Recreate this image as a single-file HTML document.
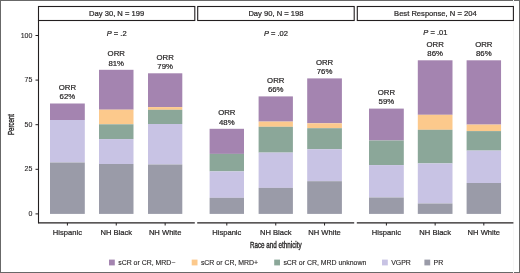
<!DOCTYPE html>
<html><head><meta charset="utf-8"><style>html,body{margin:0;padding:0;background:#fff;overflow:hidden}#w{width:520px;height:273px}svg{display:block;will-change:transform}text{stroke:#2a2a2a;stroke-width:0.22px}</style></head><body><div id="w">
<svg width="520" height="273" viewBox="0 0 520 273" font-family='"Liberation Sans", sans-serif' fill="#231f20">
<rect x="0" y="0" width="520" height="273" fill="#fff"/>
<rect x="0.5" y="0.5" width="519" height="272" fill="none" stroke="#686868" stroke-width="1"/>
<line x1="513.5" y1="0" x2="513.5" y2="273" stroke="#f6f6f6" stroke-width="1"/>
<rect x="38.5" y="6.5" width="156.30" height="14" fill="#fff" stroke="#231f20" stroke-width="1.1"/>
<text x="116.65" y="16" font-size="7.6" text-anchor="middle">Day 30, N = 199</text>
<text x="116.65" y="35.7" font-size="7.5" text-anchor="middle"><tspan font-style="italic">P</tspan> = .2</text>
<line x1="38.0" y1="222.9" x2="194.8" y2="222.9" stroke="#231f20" stroke-width="1.2"/>
<rect x="197.7" y="6.5" width="156.50" height="14" fill="#fff" stroke="#231f20" stroke-width="1.1"/>
<text x="275.95" y="16" font-size="7.6" text-anchor="middle">Day 90, N = 198</text>
<text x="275.95" y="35.7" font-size="7.5" text-anchor="middle"><tspan font-style="italic">P</tspan> = .02</text>
<line x1="197.2" y1="222.9" x2="354.2" y2="222.9" stroke="#231f20" stroke-width="1.2"/>
<rect x="357.3" y="6.5" width="156.10" height="14" fill="#fff" stroke="#231f20" stroke-width="1.1"/>
<text x="435.35" y="16" font-size="7.6" text-anchor="middle">Best Response, N = 204</text>
<text x="435.35" y="34.5" font-size="7.5" text-anchor="middle"><tspan font-style="italic">P</tspan> = .01</text>
<line x1="356.8" y1="222.9" x2="513.4" y2="222.9" stroke="#231f20" stroke-width="1.2"/>
<line x1="38.5" y1="20" x2="38.5" y2="223.2" stroke="#231f20" stroke-width="1.1"/>
<line x1="35.5" y1="213.90" x2="38.5" y2="213.90" stroke="#231f20" stroke-width="1"/>
<text x="32.4" y="215.90" font-size="7.0" text-anchor="end" style="stroke-width:0.12px">0</text>
<line x1="35.5" y1="169.30" x2="38.5" y2="169.30" stroke="#231f20" stroke-width="1"/>
<text x="32.4" y="171.30" font-size="7.0" text-anchor="end" style="stroke-width:0.12px">25</text>
<line x1="35.5" y1="124.70" x2="38.5" y2="124.70" stroke="#231f20" stroke-width="1"/>
<text x="32.4" y="126.70" font-size="7.0" text-anchor="end" style="stroke-width:0.12px">50</text>
<line x1="35.5" y1="80.10" x2="38.5" y2="80.10" stroke="#231f20" stroke-width="1"/>
<text x="32.4" y="82.10" font-size="7.0" text-anchor="end" style="stroke-width:0.12px">75</text>
<line x1="35.5" y1="35.50" x2="38.5" y2="35.50" stroke="#231f20" stroke-width="1"/>
<text x="32.4" y="37.50" font-size="7.0" text-anchor="end" style="stroke-width:0.12px">100</text>
<text transform="translate(14.1,124.5) rotate(-90) scale(0.73,1)" font-size="8.4" text-anchor="middle" style="stroke-width:0.35px">Percent</text>
<rect x="50.0" y="103.50" width="34.80" height="16.50" fill="#a484b0"/>
<rect x="50.0" y="120.00" width="34.80" height="42.50" fill="#c8c3e4"/>
<rect x="50.0" y="162.50" width="34.80" height="51.40" fill="#9a9ba8"/>
<text x="67.4" y="90.10" font-size="7.8" text-anchor="middle">ORR</text>
<text x="67.4" y="99.30" font-size="7.8" text-anchor="middle">62%</text>
<line x1="67.4" y1="222.9" x2="67.4" y2="225.5" stroke="#231f20" stroke-width="1"/>
<text x="67.4" y="234.6" font-size="7.6" text-anchor="middle">Hispanic</text>
<rect x="99.0" y="69.80" width="34.50" height="39.90" fill="#a484b0"/>
<rect x="99.0" y="109.70" width="34.50" height="14.60" fill="#fcc98c"/>
<rect x="99.0" y="124.30" width="34.50" height="14.80" fill="#8ba799"/>
<rect x="99.0" y="139.10" width="34.50" height="24.90" fill="#c8c3e4"/>
<rect x="99.0" y="164.00" width="34.50" height="49.90" fill="#9a9ba8"/>
<text x="116.25" y="56.40" font-size="7.8" text-anchor="middle">ORR</text>
<text x="116.25" y="65.60" font-size="7.8" text-anchor="middle">81%</text>
<line x1="116.25" y1="222.9" x2="116.25" y2="225.5" stroke="#231f20" stroke-width="1"/>
<text x="116.25" y="234.6" font-size="7.6" text-anchor="middle">NH Black</text>
<rect x="148.0" y="73.30" width="34.30" height="33.80" fill="#a484b0"/>
<rect x="148.0" y="107.10" width="34.30" height="2.70" fill="#fcc98c"/>
<rect x="148.0" y="109.80" width="34.30" height="14.20" fill="#8ba799"/>
<rect x="148.0" y="124.00" width="34.30" height="40.50" fill="#c8c3e4"/>
<rect x="148.0" y="164.50" width="34.30" height="49.40" fill="#9a9ba8"/>
<text x="165.15" y="59.90" font-size="7.8" text-anchor="middle">ORR</text>
<text x="165.15" y="69.10" font-size="7.8" text-anchor="middle">79%</text>
<line x1="165.15" y1="222.9" x2="165.15" y2="225.5" stroke="#231f20" stroke-width="1"/>
<text x="165.15" y="234.6" font-size="7.6" text-anchor="middle">NH White</text>
<rect x="209.6" y="128.80" width="34.40" height="25.10" fill="#a484b0"/>
<rect x="209.6" y="153.90" width="34.40" height="17.50" fill="#8ba799"/>
<rect x="209.6" y="171.40" width="34.40" height="26.40" fill="#c8c3e4"/>
<rect x="209.6" y="197.80" width="34.40" height="16.10" fill="#9a9ba8"/>
<text x="226.8" y="115.40" font-size="7.8" text-anchor="middle">ORR</text>
<text x="226.8" y="124.60" font-size="7.8" text-anchor="middle">48%</text>
<line x1="226.8" y1="222.9" x2="226.8" y2="225.5" stroke="#231f20" stroke-width="1"/>
<text x="226.8" y="234.6" font-size="7.6" text-anchor="middle">Hispanic</text>
<rect x="258.6" y="96.40" width="34.30" height="25.20" fill="#a484b0"/>
<rect x="258.6" y="121.60" width="34.30" height="5.20" fill="#fcc98c"/>
<rect x="258.6" y="126.80" width="34.30" height="25.80" fill="#8ba799"/>
<rect x="258.6" y="152.60" width="34.30" height="35.30" fill="#c8c3e4"/>
<rect x="258.6" y="187.90" width="34.30" height="26.00" fill="#9a9ba8"/>
<text x="275.75" y="83.00" font-size="7.8" text-anchor="middle">ORR</text>
<text x="275.75" y="92.20" font-size="7.8" text-anchor="middle">66%</text>
<line x1="275.75" y1="222.9" x2="275.75" y2="225.5" stroke="#231f20" stroke-width="1"/>
<text x="275.75" y="234.6" font-size="7.6" text-anchor="middle">NH Black</text>
<rect x="307.2" y="78.40" width="34.70" height="44.90" fill="#a484b0"/>
<rect x="307.2" y="123.30" width="34.70" height="4.90" fill="#fcc98c"/>
<rect x="307.2" y="128.20" width="34.70" height="21.00" fill="#8ba799"/>
<rect x="307.2" y="149.20" width="34.70" height="32.00" fill="#c8c3e4"/>
<rect x="307.2" y="181.20" width="34.70" height="32.70" fill="#9a9ba8"/>
<text x="324.54999999999995" y="65.00" font-size="7.8" text-anchor="middle">ORR</text>
<text x="324.54999999999995" y="74.20" font-size="7.8" text-anchor="middle">76%</text>
<line x1="324.54999999999995" y1="222.9" x2="324.54999999999995" y2="225.5" stroke="#231f20" stroke-width="1"/>
<text x="324.54999999999995" y="234.6" font-size="7.6" text-anchor="middle">NH White</text>
<rect x="369.0" y="108.60" width="34.80" height="31.90" fill="#a484b0"/>
<rect x="369.0" y="140.50" width="34.80" height="24.60" fill="#8ba799"/>
<rect x="369.0" y="165.10" width="34.80" height="32.40" fill="#c8c3e4"/>
<rect x="369.0" y="197.50" width="34.80" height="16.40" fill="#9a9ba8"/>
<text x="386.4" y="95.20" font-size="7.8" text-anchor="middle">ORR</text>
<text x="386.4" y="104.40" font-size="7.8" text-anchor="middle">59%</text>
<line x1="386.4" y1="222.9" x2="386.4" y2="225.5" stroke="#231f20" stroke-width="1"/>
<text x="386.4" y="234.6" font-size="7.6" text-anchor="middle">Hispanic</text>
<rect x="417.8" y="60.30" width="34.70" height="54.50" fill="#a484b0"/>
<rect x="417.8" y="114.80" width="34.70" height="15.00" fill="#fcc98c"/>
<rect x="417.8" y="129.80" width="34.70" height="33.60" fill="#8ba799"/>
<rect x="417.8" y="163.40" width="34.70" height="40.10" fill="#c8c3e4"/>
<rect x="417.8" y="203.50" width="34.70" height="10.40" fill="#9a9ba8"/>
<text x="435.15" y="46.90" font-size="7.8" text-anchor="middle">ORR</text>
<text x="435.15" y="56.10" font-size="7.8" text-anchor="middle">86%</text>
<line x1="435.15" y1="222.9" x2="435.15" y2="225.5" stroke="#231f20" stroke-width="1"/>
<text x="435.15" y="234.6" font-size="7.6" text-anchor="middle">NH Black</text>
<rect x="466.6" y="60.30" width="34.45" height="64.30" fill="#a484b0"/>
<rect x="466.6" y="124.60" width="34.45" height="6.50" fill="#fcc98c"/>
<rect x="466.6" y="131.10" width="34.45" height="19.50" fill="#8ba799"/>
<rect x="466.6" y="150.60" width="34.45" height="32.40" fill="#c8c3e4"/>
<rect x="466.6" y="183.00" width="34.45" height="30.90" fill="#9a9ba8"/>
<text x="483.82500000000005" y="46.90" font-size="7.8" text-anchor="middle">ORR</text>
<text x="483.82500000000005" y="56.10" font-size="7.8" text-anchor="middle">86%</text>
<line x1="483.82500000000005" y1="222.9" x2="483.82500000000005" y2="225.5" stroke="#231f20" stroke-width="1"/>
<text x="483.82500000000005" y="234.6" font-size="7.6" text-anchor="middle">NH White</text>
<text transform="translate(275.8,247.5) scale(0.75,1)" font-size="8.4" text-anchor="middle" style="stroke-width:0.35px">Race and ethnicity</text>
<rect x="109" y="259.6" width="5.8" height="5.8" fill="#a484b0"/>
<text x="118.2" y="265.2" font-size="6.95" style="stroke-width:0.12px">sCR or CR, MRD−</text>
<rect x="191.7" y="259.6" width="5.8" height="5.8" fill="#fcc98c"/>
<text x="200.89999999999998" y="265.2" font-size="6.95" style="stroke-width:0.12px">sCR or CR, MRD+</text>
<rect x="274.2" y="259.6" width="5.8" height="5.8" fill="#8ba799"/>
<text x="283.4" y="265.2" font-size="6.95" style="stroke-width:0.12px">sCR or CR, MRD unknown</text>
<rect x="382" y="259.6" width="5.8" height="5.8" fill="#c8c3e4"/>
<text x="391.2" y="265.2" font-size="6.95" style="stroke-width:0.12px">VGPR</text>
<rect x="424.4" y="259.6" width="5.8" height="5.8" fill="#9a9ba8"/>
<text x="433.59999999999997" y="265.2" font-size="6.95" style="stroke-width:0.12px">PR</text>
</svg>
</div></body></html>
